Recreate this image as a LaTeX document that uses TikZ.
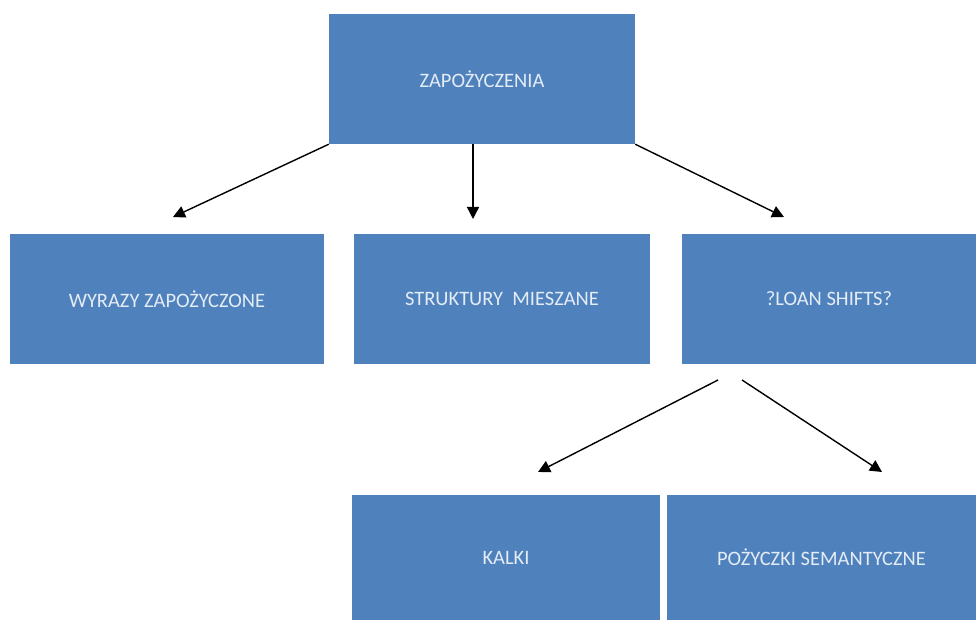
\documentclass[tikz,border=0pt]{standalone}
\usepackage{fontspec}
\setmainfont{Carlito}
\usetikzlibrary{arrows.meta}
\definecolor{boxblue}{HTML}{4F81BD}
\definecolor{boxtext}{HTML}{E4ECF6}
\tikzset{
  box/.style={fill=boxblue, draw=none, inner sep=0pt, text=boxtext,
    font=\fontsize{20.5}{24}\selectfont},
  conn/.style={line width=1.4pt, -{Triangle[length=12pt,width=12pt]}},
}
\begin{document}
\begin{tikzpicture}[x=1pt,y=-1pt]
\useasboundingbox (0,0) rectangle (976,620);
% boxes
\node[box, minimum width=306pt, minimum height=130pt] (top) at (482,79) {ZAPOŻYCZENIA};
\node[box, minimum width=314pt, minimum height=130pt] (wyr) at (167,299) {WYRAZY ZAPOŻYCZONE};
\node[box, minimum width=296pt, minimum height=130pt] (str) at (502,299) {STRUKTURY\ \ MIESZANE};
\node[box, minimum width=294pt, minimum height=130pt] (loan) at (829,299) {?LOAN SHIFTS?};
\node[box, minimum width=308pt, minimum height=125pt] (kal) at (506,557.5) {KALKI};
\node[box, minimum width=309pt, minimum height=125pt] (poz) at (821.5,557.5) {POŻYCZKI SEMANTYCZNE};
% free arrow ends
\coordinate (e1) at (173,217);
\coordinate (s2) at (473,144);
\coordinate (e2) at (473,219);
\coordinate (e3) at (784,217);
\coordinate (s4) at (718,380);
\coordinate (e4) at (538,472);
\coordinate (s5) at (742,380);
\coordinate (e5) at (882,472);
% connectors
\draw[conn] (top.south west) -- (e1);
\draw[conn] (s2) -- (e2);
\draw[conn] (top.south east) -- (e3);
\draw[conn] (s4) -- (e4);
\draw[conn] (s5) -- (e5);
\end{tikzpicture}
\end{document}
